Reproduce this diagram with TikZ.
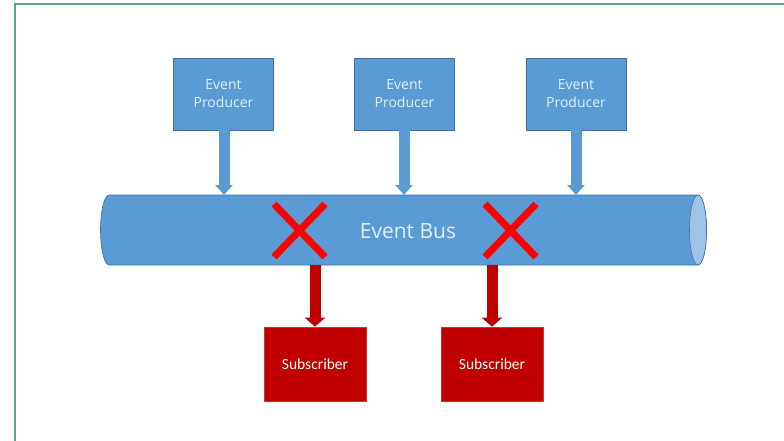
\documentclass[tikz,border=0pt]{standalone}
\usepackage{fontspec}
\setmainfont{Open Sans}
\newfontfamily\subfont{Carlito}
\usetikzlibrary{arrows.meta}
\definecolor{busblue}{HTML}{5B9BD5}
\definecolor{busedge}{HTML}{41719C}
\definecolor{buscap}{HTML}{9DC3E6}
\definecolor{txtlight}{HTML}{E4EEF8}
\definecolor{subred}{HTML}{C00000}
\definecolor{xred}{HTML}{FF0000}
\definecolor{framegreen}{HTML}{55A97C}
\tikzset{
  prodbox/.style={draw=busedge, line width=0.6pt, fill=busblue, minimum width=100pt, minimum height=72pt,
    inner sep=0pt, align=center, text=txtlight, font=\fontsize{14}{18}\selectfont},
  subbox/.style={draw=subred!80!white, line width=0.6pt, fill=subred, minimum width=102pt, minimum height=74pt,
    inner sep=0pt, text=white, font=\subfont\fontsize{15.5}{18}\selectfont},
  prodarrow/.style={draw=busblue, line width=11pt, -{Triangle[width=17pt,length=10pt]}},
  subarrow/.style={draw=subred, line width=11pt, -{Triangle[width=20pt,length=9pt]}},
  xmark/.style={draw=xred, line width=7pt},
}
\begin{document}
\begin{tikzpicture}[x=1pt,y=-1pt]
\useasboundingbox (0,0) rectangle (784,441);
% frame
\draw[framegreen, line width=2pt] (15,441) -- (15,4) -- (784,4);
% bus
\coordinate (busL) at (109,230);
\coordinate (busR) at (698,230);
\filldraw[fill=busblue, draw=busedge, line width=0.6pt]
  (109,195) -- (698,195) arc[start angle=-90, end angle=90, x radius=8.5, y radius=35]
  -- (109,265) arc[start angle=90, end angle=270, x radius=8.5, y radius=35] -- cycle;
\filldraw[fill=buscap, draw=busedge, line width=0.6pt] (busR) ellipse[x radius=8.5, y radius=35];
\node[inner sep=0pt, text=txtlight, font=\fontsize{21}{24}\selectfont] (bus) at (408,231) {Event Bus};
\coordinate (bustop1) at (224,195);
\coordinate (bustop2) at (404,195);
\coordinate (bustop3) at (576,195);
\coordinate (busbot1) at (315,265);
\coordinate (busbot2) at (492,265);
% producers
\node[prodbox] (p1) at (223.5,94) {Event\\Producer};
\node[prodbox] (p2) at (404.5,94) {Event\\Producer};
\node[prodbox] (p3) at (576,94) {Event\\Producer};
\draw[prodarrow] (p1.south -| bustop1) -- (bustop1);
\draw[prodarrow] (p2.south -| bustop2) -- (bustop2);
\draw[prodarrow] (p3.south -| bustop3) -- (bustop3);
% subscribers
\node[subbox] (s1) at (315,364) {Subscriber};
\node[subbox] (s2) at (492,364) {Subscriber};
\draw[subarrow] (busbot1) -- (busbot1 |- s1.north);
\draw[subarrow] (busbot2) -- (busbot2 |- s2.north);
% crosses
\coordinate (x1a) at (274,204); \coordinate (x1b) at (325,257);
\coordinate (x1c) at (325,204); \coordinate (x1d) at (274,257);
\coordinate (x2a) at (485,204); \coordinate (x2b) at (536,257);
\coordinate (x2c) at (536,204); \coordinate (x2d) at (485,257);
\draw[xmark] (x1a) -- (x1b);
\draw[xmark] (x1c) -- (x1d);
\draw[xmark] (x2a) -- (x2b);
\draw[xmark] (x2c) -- (x2d);
\end{tikzpicture}
\end{document}
